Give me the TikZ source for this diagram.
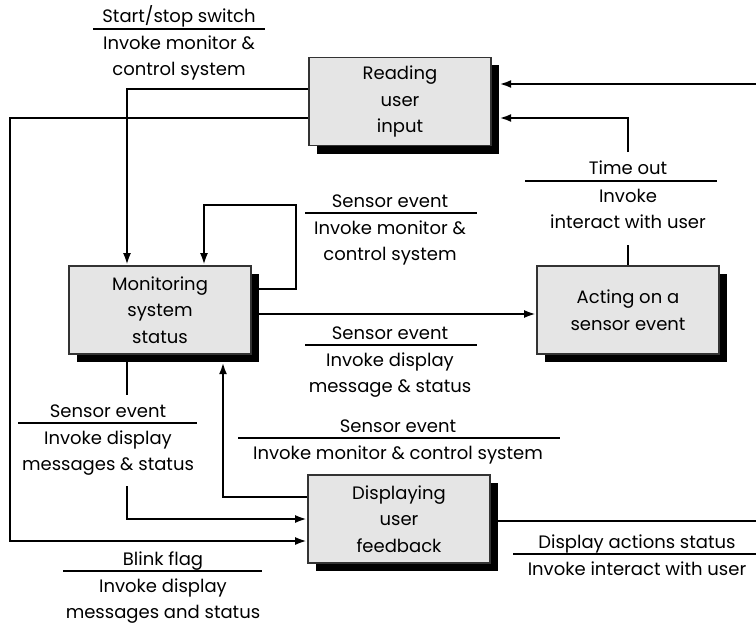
\documentclass[tikz,border=0pt]{standalone}
\usepackage{fontspec}
\setmainfont{Poppins}
\usetikzlibrary{arrows.meta,calc}
\pgfdeclarelayer{bg}
\pgfsetlayers{bg,main}
\begin{document}
\begin{tikzpicture}[x=1pt,y=-1pt,
  lbl/.style={font=\fontsize{18}{26}\selectfont, anchor=base, inner sep=0pt},
  box/.style={draw=black!80, line width=1.8pt, fill=black!10, minimum width=182pt, minimum height=88pt, align=center, font=\fontsize{18}{26.5}\selectfont, inner sep=0pt},
  shad/.style={fill=black, minimum width=182pt, minimum height=88pt, inner sep=0pt},
  conn/.style={line width=2.8pt},
  arr/.style={conn, -{Latex[length=12pt,width=8pt]}},
  rulel/.style={line width=1.4pt}]
\useasboundingbox (0,0) rectangle (756,626);
\clip (0,0) rectangle (756,626);

% boxes
\node[shad] (readS) at (408,109.5) {};
\node[box] (read) at (400,101.5) {Reading\\user\\input};
\node[shad] (monS) at (168,318) {};
\node[box] (mon) at (160,310) {Monitoring\\system\\status};
\node[shad] (actS) at (636,318) {};
\node[box] (act) at (628,310) {Acting on a\\sensor event};
\node[shad] (dispS) at (407,527) {};
\node[box] (disp) at (399,519) {Displaying\\user\\feedback};

% connectors
\begin{pgfonlayer}{bg}
\coordinate (rt) at (770,84);
\coordinate (rb) at (770,521);
\draw[arr] (disp.east |- rb) -- (rb) -- (rt) -- (readS.east |- rt);

\coordinate (t0) at (628,118);
\coordinate (t1) at (628,152);
\coordinate (t2) at (628,245);
\draw[conn] (act.north) -- (t2);
\draw[arr] (t1) -- (t0) -- (readS.east |- t0);

\coordinate (a1) at (127,89);
\draw[arr] (read.west |- a1) -- (a1) -- (a1 |- mon.north);

\coordinate (b1) at (10,118);
\coordinate (b2) at (10,541);
\draw[arr] (read.west |- b1) -- (b1) -- (b2) -- (disp.west |- b2);

\coordinate (c0) at (296,289);
\coordinate (c1) at (296,205);
\coordinate (c2) at (204,205);
\draw[arr] (mon.east |- c0) -- (c0) -- (c1) -- (c2) -- (c2 |- mon.north);

\coordinate (d0) at (400,314);
\draw[arr] (mon.east |- d0) -- (act.west |- d0);

\coordinate (f1) at (127,395);
\coordinate (f2) at (127,486);
\coordinate (f3) at (127,519);
\draw[conn] (mon.south -| f1) -- (f1);
\draw[arr] (f2) -- (f3) -- (disp.west |- f3);

\coordinate (g1) at (223,497);
\draw[arr] (disp.west |- g1) -- (g1) -- (g1 |- monS.south);
\end{pgfonlayer}

% label A
\draw[rulel] (93,29) -- (265,29);
\node[lbl] (lA1) at (179,23) {Start/stop switch};
\node[lbl] (lA2) at (179,50) {Invoke monitor \&};
\node[lbl] (lA3) at (179,76) {control system};
% label B
\draw[rulel] (305,213) -- (477,213);
\node[lbl] (lB1) at (390,207) {Sensor event};
\node[lbl] (lB2) at (390,234) {Invoke monitor \&};
\node[lbl] (lB3) at (390,260) {control system};
% label C
\draw[rulel] (305,345) -- (477,345);
\node[lbl] (lC1) at (390,339) {Sensor event};
\node[lbl] (lC2) at (390,366) {Invoke display};
\node[lbl] (lC3) at (390,392) {message \& status};
% label D
\draw[rulel] (238,438) -- (560,438);
\node[lbl] (lD1) at (398,432) {Sensor event};
\node[lbl] (lD2) at (398,459) {Invoke monitor \& control system};
% label E
\draw[rulel] (525,181) -- (717,181);
\node[lbl] (lE1) at (628,175) {Time out};
\node[lbl] (lE2) at (628,202) {Invoke};
\node[lbl] (lE3) at (628,228) {interact with user};
% label F
\draw[rulel] (18,423) -- (197,423);
\node[lbl] (lF1) at (108,417) {Sensor event};
\node[lbl] (lF2) at (108,444) {Invoke display};
\node[lbl] (lF3) at (108,470) {messages \& status};
% label G
\draw[rulel] (63,571) -- (262,571);
\node[lbl] (lG1) at (163,565) {Blink flag};
\node[lbl] (lG2) at (163,592) {Invoke display};
\node[lbl] (lG3) at (163,618) {messages and status};
% label H
\draw[rulel] (513,554) -- (756,554);
\node[lbl] (lH1) at (637,548) {Display actions status};
\node[lbl] (lH2) at (637,575) {Invoke interact with user};
\end{tikzpicture}
\end{document}
